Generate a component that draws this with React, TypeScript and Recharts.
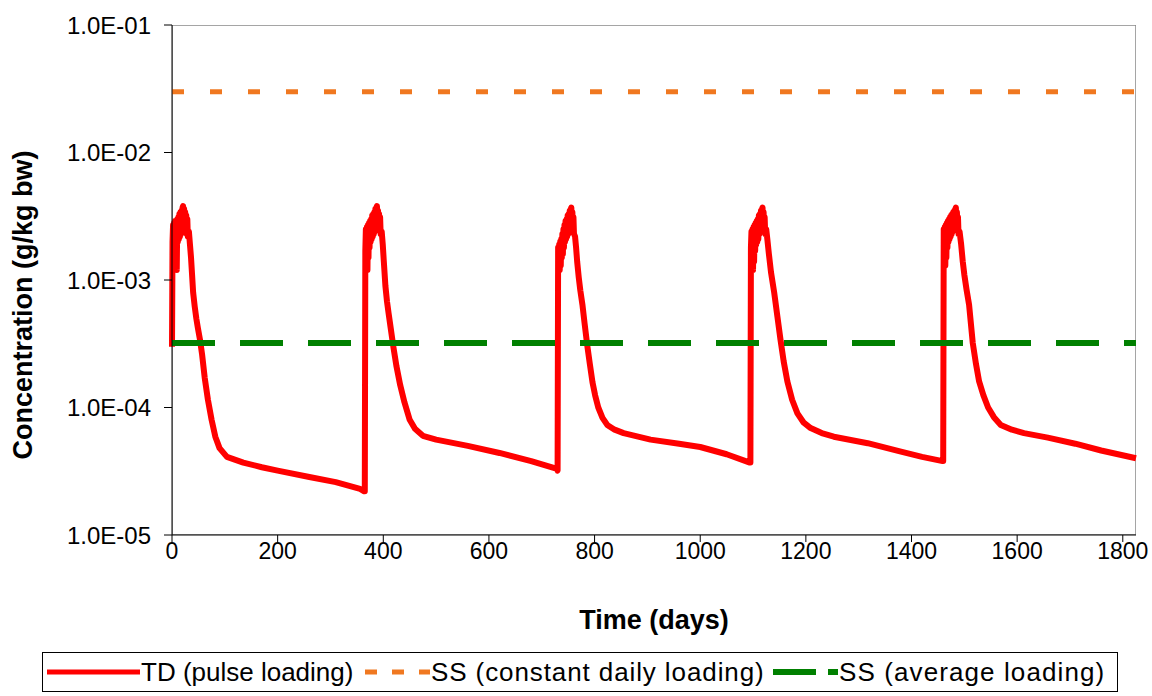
import React from 'react';
import { LineChart, Line, XAxis, YAxis, Legend, ReferenceArea } from 'recharts';

// Time-dependent (pulse loading) concentration, one array per yearly pulse: [day, g/kg bw]
const pulse1 = [
  [0, 3.0e-4], [1, 2.0e-3], [2, 2.7e-3], [3, 1.9e-3], [4, 2.8e-3], [5, 1.8e-3], [6, 2.9e-3],
  [7, 1.6e-3], [8, 2.9e-3], [9, 1.2e-3], [10, 3.0e-3], [11, 2.0e-3], [12, 3.1e-3], [13, 2.1e-3],
  [14, 3.3e-3], [15, 2.2e-3], [16, 3.4e-3], [17, 2.3e-3], [18, 3.5e-3], [19, 2.5e-3], [20, 3.7e-3],
  [21, 3.8e-3], [22, 2.7e-3], [23, 3.6e-3], [24, 2.6e-3], [25, 3.4e-3], [26, 2.5e-3], [27, 3.2e-3],
  [28, 2.3e-3], [29, 3.0e-3], [30, 2.2e-3], [32, 2.4e-3], [34, 1.9e-3], [36, 1.5e-3], [38, 1.1e-3],
  [40, 8.0e-4], [43, 6.2e-4], [46, 5.0e-4], [49, 4.2e-4], [53, 3.4e-4], [57, 2.6e-4], [62, 1.7e-4],
  [68, 1.15e-4], [75, 8.0e-5], [82, 5.9e-5], [90, 4.8e-5], [104, 4.1e-5], [135, 3.7e-5],
  [170, 3.4e-5], [200, 3.2e-5], [260, 2.85e-5], [310, 2.6e-5], [356, 2.3e-5], [364, 2.2e-5],
];
const pulse2 = [
  [365, 2.2e-5], [366, 1.7e-3], [367, 2.5e-3], [368, 1.4e-3], [369, 2.6e-3], [370, 1.2e-3],
  [371, 2.7e-3], [372, 1.5e-3], [373, 2.8e-3], [374, 1.8e-3], [375, 2.9e-3], [376, 2.0e-3],
  [377, 3.0e-3], [378, 2.1e-3], [379, 3.2e-3], [380, 2.2e-3], [381, 3.3e-3], [382, 2.3e-3],
  [383, 3.4e-3], [384, 2.4e-3], [385, 3.6e-3], [386, 2.6e-3], [387, 3.7e-3], [388, 3.8e-3],
  [389, 2.7e-3], [390, 3.5e-3], [391, 2.6e-3], [392, 3.3e-3], [393, 2.5e-3], [394, 3.1e-3],
  [395, 2.3e-3], [397, 2.4e-3], [399, 1.9e-3], [401, 1.4e-3], [404, 9.0e-4], [407, 6.8e-4],
  [410, 5.5e-4], [414, 4.2e-4], [419, 3.0e-4], [425, 2.1e-4], [432, 1.5e-4], [440, 1.1e-4],
  [450, 8.0e-5], [460, 6.8e-5], [475, 6.0e-5], [500, 5.6e-5], [560, 5.0e-5], [620, 4.4e-5],
  [680, 3.8e-5], [729, 3.3e-5],
];
const pulse3 = [
  [730, 3.2e-5], [731, 1.8e-3], [732, 1.2e-3], [733, 1.9e-3], [734, 1.2e-3], [735, 2.0e-3],
  [736, 1.3e-3], [737, 2.1e-3], [738, 1.5e-3], [739, 2.3e-3], [740, 1.6e-3], [741, 2.5e-3],
  [742, 1.8e-3], [743, 2.7e-3], [744, 2.0e-3], [745, 2.9e-3], [746, 2.1e-3], [747, 3.0e-3],
  [748, 2.2e-3], [749, 3.2e-3], [750, 2.3e-3], [751, 3.3e-3], [752, 2.4e-3], [753, 3.5e-3],
  [754, 2.6e-3], [755, 3.6e-3], [756, 3.7e-3], [757, 2.7e-3], [758, 3.4e-3], [759, 2.5e-3],
  [760, 3.1e-3], [761, 2.3e-3], [763, 2.2e-3], [765, 1.8e-3], [767, 1.4e-3], [770, 1.05e-3],
  [773, 8.3e-4], [777, 6.4e-4], [781, 4.6e-4], [786, 3.1e-4], [791, 2.2e-4], [796, 1.58e-4],
  [801, 1.25e-4], [807, 1.0e-4], [815, 8.3e-5], [824, 7.3e-5], [838, 6.7e-5], [855, 6.3e-5],
  [906, 5.6e-5], [960, 5.2e-5], [1000, 4.9e-5], [1050, 4.3e-5], [1094, 3.7e-5],
];
const pulse4 = [
  [1095, 3.7e-5], [1096, 1.8e-3], [1097, 2.4e-3], [1098, 1.3e-3], [1099, 2.5e-3], [1100, 1.2e-3],
  [1101, 2.6e-3], [1102, 1.4e-3], [1103, 2.7e-3], [1104, 1.7e-3], [1105, 2.8e-3], [1106, 1.9e-3],
  [1107, 2.9e-3], [1108, 2.0e-3], [1109, 3.0e-3], [1110, 2.1e-3], [1111, 3.2e-3], [1112, 2.3e-3],
  [1113, 3.3e-3], [1114, 2.4e-3], [1115, 3.5e-3], [1116, 2.6e-3], [1117, 3.6e-3], [1118, 3.7e-3],
  [1119, 2.7e-3], [1120, 3.4e-3], [1121, 2.5e-3], [1122, 3.1e-3], [1123, 2.3e-3], [1125, 2.5e-3],
  [1127, 2.1e-3], [1130, 1.6e-3], [1134, 1.15e-3], [1140, 8.0e-4], [1146, 5.2e-4], [1152, 3.4e-4],
  [1158, 2.3e-4], [1165, 1.6e-4], [1174, 1.15e-4], [1184, 9.0e-5], [1196, 7.6e-5], [1209, 6.9e-5],
  [1230, 6.3e-5], [1253, 5.9e-5], [1317, 5.25e-5], [1380, 4.5e-5], [1420, 4.1e-5], [1459, 3.8e-5],
];
const pulse5 = [
  [1460, 3.8e-5], [1461, 2.5e-3], [1462, 1.4e-3], [1463, 2.6e-3], [1464, 1.3e-3], [1465, 2.7e-3],
  [1466, 1.5e-3], [1467, 2.8e-3], [1468, 1.8e-3], [1469, 2.9e-3], [1470, 2.0e-3], [1471, 3.0e-3],
  [1472, 2.1e-3], [1473, 3.1e-3], [1474, 2.2e-3], [1475, 3.2e-3], [1476, 2.3e-3], [1477, 3.3e-3],
  [1478, 2.4e-3], [1479, 3.4e-3], [1480, 2.5e-3], [1481, 3.5e-3], [1482, 2.6e-3], [1483, 3.6e-3],
  [1484, 3.7e-3], [1485, 2.7e-3], [1486, 3.4e-3], [1487, 2.5e-3], [1488, 3.1e-3], [1489, 2.3e-3],
  [1491, 2.4e-3], [1494, 1.9e-3], [1497, 1.4e-3], [1500, 1.1e-3], [1504, 8.5e-4], [1509, 6.4e-4],
  [1516, 3.2e-4], [1522, 2.2e-4], [1528, 1.6e-4], [1536, 1.25e-4], [1545, 1.0e-4], [1556, 8.4e-5],
  [1569, 7.3e-5], [1590, 6.7e-5], [1613, 6.3e-5], [1658, 5.8e-5], [1710, 5.2e-5], [1759, 4.6e-5],
  [1825, 4.0e-5],
];

// Steady-state levels
const ssConstantDaily = 3.0e-2;
const ssAverage = 3.2e-4;

const xTicks = [0, 200, 400, 600, 800, 1000, 1200, 1400, 1600, 1800];
const yTicks = [1e-5, 1e-4, 1e-3, 1e-2, 1e-1];
const xMax = 1825;

const seriesNames = ['TD (pulse loading)', 'SS (constant daily loading)', 'SS (average loading)'];

const tdData = [...pulse1, ...pulse2, ...pulse3, ...pulse4, ...pulse5].map(([t, v]) => ({ t, v }));
const ssConstData = [{ t: 0, v: ssConstantDaily }, { t: xMax, v: ssConstantDaily }];
const ssAvgData = [{ t: 0, v: ssAverage }, { t: xMax, v: ssAverage }];

const FONT = '"Liberation Sans", Arial, sans-serif';

const formatSci = (v: number) => {
  const e = Math.round(Math.log10(v));
  const sign = e < 0 ? '-' : '+';
  return `1.0E${sign}${String(Math.abs(e)).padStart(2, '0')}`;
};

// legend sample look for each series: item width, sample width, dash, stroke, letter spacing
const legendSamples: Record<string, { item?: number; w: number; dash?: string; sw: number; ls: number }> = {
  [seriesNames[0]]: { item: 318, w: 93, sw: 5, ls: 0 },
  [seriesNames[1]]: { item: 408, w: 65, dash: '12 15', sw: 5, ls: 0.9 },
  [seriesNames[2]]: { w: 65, dash: '43 12', sw: 6, ls: 1.1 },
};

function LegendBox({ payload }: any) {
  const items = [...(payload || [])].sort(
    (a: any, b: any) => seriesNames.indexOf(a.value) - seriesNames.indexOf(b.value)
  );
  return (
    <div
      style={{
        border: '1px solid #000',
        height: 38,
        display: 'flex',
        alignItems: 'center',
        paddingLeft: 4,
        fontFamily: FONT,
        fontSize: 26,
        color: '#000',
        boxSizing: 'content-box',
      }}
    >
      {items.map((p: any) => {
        const s = legendSamples[p.value] || { w: 65, sw: 5, ls: 0 };
        return (
          <div
            key={p.value}
            style={{ display: 'flex', alignItems: 'center', width: s.item, flex: s.item ? 'none' : 1 }}
          >
            <svg width={s.w} height={10} style={{ display: 'block', flex: 'none' }}>
              <line x1={0} y1={5} x2={s.w} y2={5} stroke={p.color} strokeWidth={s.sw} strokeDasharray={s.dash} />
            </svg>
            <span style={{ marginLeft: 1, whiteSpace: 'nowrap', letterSpacing: s.ls }}>{p.value}</span>
          </div>
        );
      })}
    </div>
  );
}

function YTitle() {
  const cx = 23;
  const cy = 305;
  return (
    <text
      x={cx}
      y={cy}
      transform={`rotate(-90, ${cx}, ${cy})`}
      textAnchor="middle"
      dominantBaseline="central"
      fontFamily={FONT}
      fontWeight="bold"
      fontSize={27}
      fill="#000"
    >
      Concentration (g/kg bw)
    </text>
  );
}

function XTitle({ viewBox }: any) {
  const cx = viewBox.x + viewBox.width / 2;
  return (
    <text
      x={cx}
      y={620}
      textAnchor="middle"
      dominantBaseline="central"
      fontFamily={FONT}
      fontWeight="bold"
      fontSize={27}
      fill="#000"
    >
      Time (days)
    </text>
  );
}

export default function App() {
  return (
    <div style={{ position: 'absolute', left: 0, top: 0, width: 1152, height: 696, background: '#fff' }}>
      <LineChart width={1152} height={696} data={tdData} margin={{ top: 25, right: 16, left: 0, bottom: 71 }}>
        <ReferenceArea x1={0} x2={xMax} y1={1e-5} y2={1e-1} fill="none" stroke="#888" strokeWidth={1.5} ifOverflow="hidden" />
        <XAxis
          dataKey="t"
          type="number"
          domain={[0, xMax]}
          ticks={xTicks}
          height={90}
          stroke="#000"
          tickSize={7}
          tickMargin={1}
          tick={{ fill: '#000', fontSize: 23, fontFamily: FONT }}
          label={<XTitle />}
        />
        <YAxis
          dataKey="v"
          scale="log"
          domain={[1e-5, 1e-1]}
          allowDataOverflow
          ticks={yTicks}
          tickFormatter={formatSci}
          width={172}
          stroke="#000"
          tickSize={8}
          tickMargin={13}
          tick={{ fill: '#000', fontSize: 24, fontFamily: FONT }}
          label={<YTitle />}
        />
        <Legend
          verticalAlign="middle"
          align="center"
          layout="horizontal"
          wrapperStyle={{ left: 42, top: 652, width: 1076 }}
          content={<LegendBox />}
        />
        <Line
          name={seriesNames[0]}
          data={tdData}
          dataKey="v"
          stroke="#ff0000"
          strokeWidth={6}
          strokeLinejoin="round"
          dot={false}
          activeDot={false}
          isAnimationActive={false}
        />
        <Line
          name={seriesNames[1]}
          data={ssConstData}
          dataKey="v"
          stroke="#f07820"
          strokeWidth={5}
          strokeDasharray="12 26"
          dot={false}
          activeDot={false}
          isAnimationActive={false}
        />
        <Line
          name={seriesNames[2]}
          data={ssAvgData}
          dataKey="v"
          stroke="#008000"
          strokeWidth={6}
          strokeDasharray="43 25"
          dot={false}
          activeDot={false}
          isAnimationActive={false}
        />
      </LineChart>
    </div>
  );
}
